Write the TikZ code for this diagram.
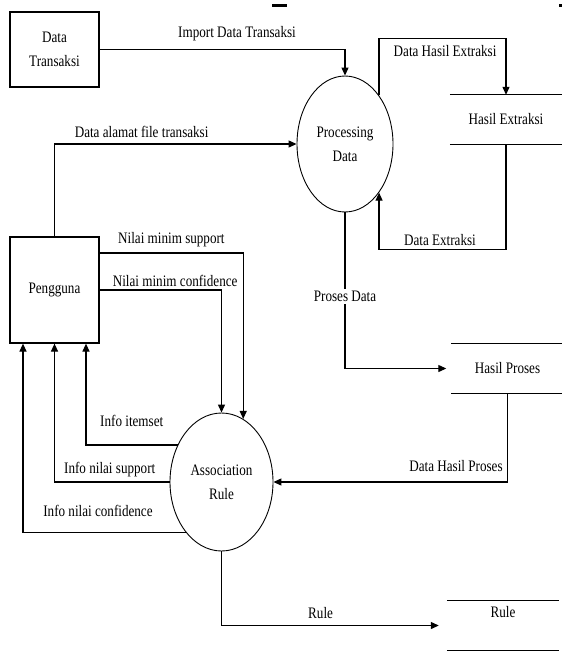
\documentclass[tikz,border=0pt]{standalone}
\usepackage{fontspec}
\setmainfont{Liberation Serif}[FakeStretch=0.82]
\usetikzlibrary{arrows.meta,shapes.geometric}

\begin{document}
\begin{tikzpicture}[x=1pt, y=-1pt,
	font=\fontsize{16}{24}\selectfont,
	entity/.style = {draw, line width=1.2pt, align=center, inner sep=0pt, minimum width=89pt},
	proc/.style = {draw, ellipse, line width=0.9pt, align=center, inner sep=0pt},
	store/.style = {minimum width=112pt, minimum height=49pt, inner sep=0pt},
	flow/.style = {draw, line width=1.2pt, -{Triangle[length=8pt,width=7pt]}},
	lbl/.style = {inner sep=2pt}]
	\useasboundingbox (0,0) rectangle (562,651);
	\fill (272,3.5) rectangle (287,6.5);
	\fill (559,3.5) rectangle (562,6.5);

	\node[entity, minimum height=75pt] (trans) at (54.5,49.5) {Data\\Transaksi};
	\node[entity, minimum height=106pt] (user) at (54.5,290) {Pengguna};
	\node[proc, minimum width=96pt, minimum height=136pt] (proc1) at (345,144) {Processing\\Data};
	\node[proc, minimum width=103pt, minimum height=138pt] (proc2) at (221.5,482) {Association\\Rule};
	\node[store] (extr) at (506,119.5) {Hasil Extraksi};
	\node[store] (hasil) at (507.5,368.5) {Hasil Proses};
	\node[store, label={[yshift=13pt]center:Rule}] (rule) at (503,625.5) {};

	% data stores
	\draw[line width=1.2pt] (extr.north west) -- (extr.north east)
	(extr.south west) -- (extr.south east)
	(hasil.north west) -- (hasil.north east)
	(hasil.south west) -- (hasil.south east)
	(rule.north west) -- (rule.north east)
	(rule.south west) -- (rule.south east);

	% processing data
	\draw[flow] (trans.east) -| node[lbl, above=6pt, pos=0.28] {Import Data Transaksi} (proc1.north);
	\draw[flow] (user.north) |- node[lbl, above=4pt, pos=0.68] {Data alamat file transaksi} (proc1.west);
	\draw[flow] (proc1.55) -- ++(0,-57) -| node[lbl, below=4pt, pos=0.26] {Data Hasil Extraksi} (extr.north);
	\draw[flow] (extr.south) -- ++(0,105) -| node[lbl, above=1pt, pos=0.26] {Data Extraksi} (proc1.-55);
	\draw[flow, shorten >=5pt] (proc1.south) |- node[lbl, fill=white, pos=0.27] {Proses Data} (hasil.west);

	% association rule
	\draw[flow] (hasil.south) |- node[lbl, above=8pt, pos=0.61] {Data Hasil Proses} (proc2.east);
	\draw[flow, shorten >=8pt] (proc2.south) |- node[lbl, above=4pt, pos=0.72] {Rule} (rule.west);
	\draw[flow] ([yshift=37pt]user.east) -| node[lbl, above=3pt, pos=0.25] {Nilai minim support} (proc2.71);
	\draw[flow] (user.east) -| node[lbl, above=1pt, pos=0.31] {Nilai minim confidence} (proc2.north);
	\draw[flow] (proc2.140) -| node[lbl, above=16pt, pos=0.25] {Info itemset} ([xshift=31.5pt]user.south);
	\draw[flow] (proc2.west) -| node[lbl, above=3pt, pos=0.26] {Info nilai support} (user.south);
	\draw[flow] (proc2.235) -| node[lbl, above=13pt, pos=0.27] {Info nilai confidence} ([xshift=-31.5pt]user.south);
\end{tikzpicture}
\end{document}
